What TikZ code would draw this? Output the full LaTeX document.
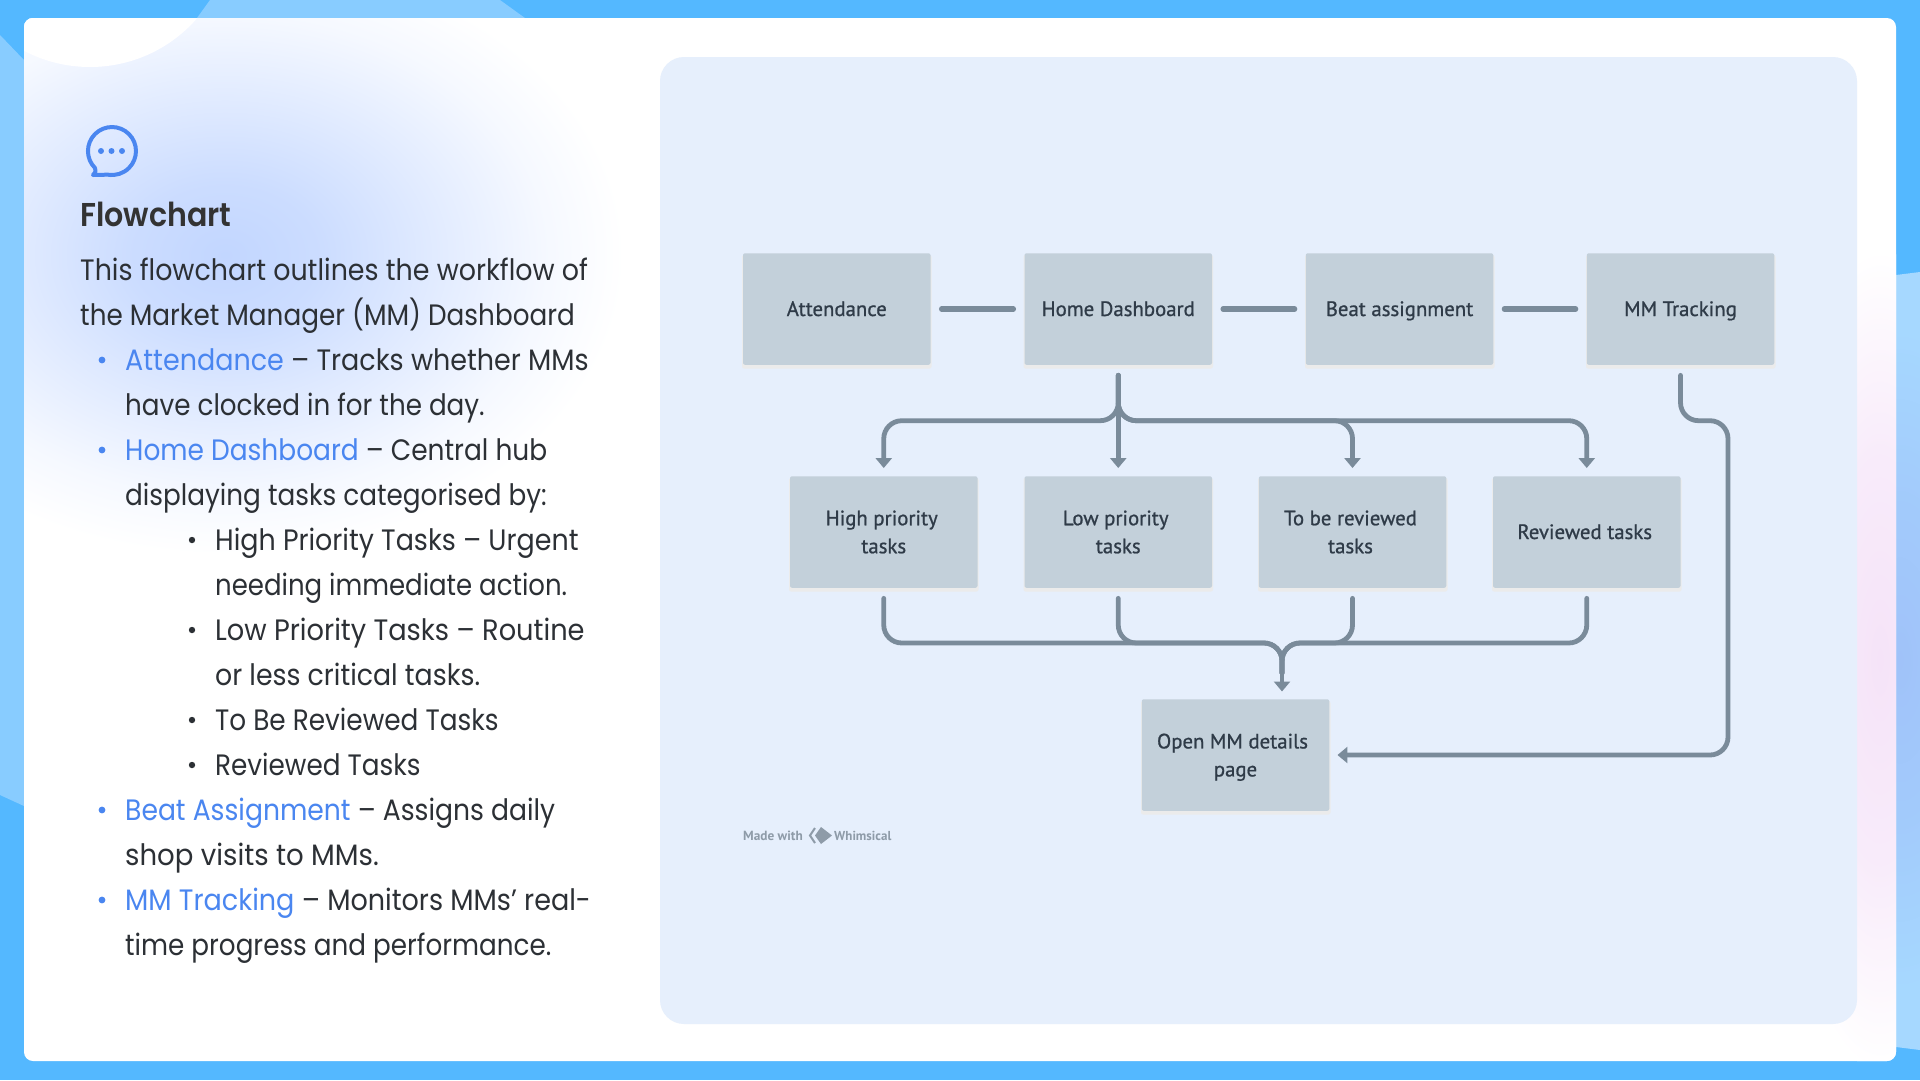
\documentclass[tikz,border=0pt]{standalone}
\usepackage{fontspec}
\usepackage{graphicx}
\usetikzlibrary{arrows.meta,calc}
\setmainfont{Poppins}[FakeStretch=0.912,BoldFont={Poppins SemiBold}]
\newfontfamily\boxfont{PT Sans}[FakeBold=0.9]
\newfontfamily\wmfont{PT Sans}
\newcommand{\fitw}[2]{\scalebox{#1}[1]{#2}}
\definecolor{basesky}{HTML}{54B8FF}
\definecolor{lightsky}{HTML}{88CCFF}
\definecolor{rightsky}{HTML}{A6D8FF}
\definecolor{periw}{HTML}{A0C2F9}
\definecolor{glowblue}{HTML}{C2D6FF}
\definecolor{glowpink}{HTML}{F5E3F8}
\definecolor{panelbg}{HTML}{E6EFFC}
\definecolor{boxbg}{HTML}{C3D0DA}
\definecolor{linecol}{HTML}{7A8B9A}
\definecolor{boxtext}{HTML}{2F3B48}
\definecolor{bodytext}{HTML}{2C3035}
\definecolor{accent}{HTML}{4A86F0}
\definecolor{wm}{HTML}{8E9BA8}
\pgfdeclareradialshading{glowA}{\pgfpoint{0bp}{0bp}}{color(0bp)=(glowblue); color(6bp)=(glowblue!84!white); color(12.5bp)=(glowblue!52!white); color(20bp)=(glowblue!16!white); color(25bp)=(white); color(50bp)=(white)}
\pgfdeclareradialshading{glowB}{\pgfpoint{0bp}{0bp}}{color(0bp)=(glowpink); color(12.5bp)=(glowpink!70!white); color(25bp)=(white); color(50bp)=(white)}
\pgfdeclareradialshading{glowC}{\pgfpoint{0bp}{0bp}}{color(0bp)=(periw); color(12.5bp)=(periw!60!rightsky); color(25bp)=(rightsky); color(50bp)=(rightsky)}
\tikzset{
  flowbox/.style={rectangle,fill=boxbg,rounded corners=2pt,minimum width=187.5pt,minimum height=111.5pt,inner sep=0pt,align=center,text=boxtext,font=\boxfont\fontsize{20.8}{28}\selectfont},
  oneline/.style={text height=18pt,text depth=4pt},
  boxshadow/.style={fill=black!8,rounded corners=2pt},
  conn/.style={draw=linecol,line width=4.8pt,rounded corners=18pt,line cap=round},
  plain/.style={conn,line width=5.5pt,shorten <=11pt,shorten >=11pt},
  branch/.style={conn,shorten <=10.4pt,shorten >=8pt,-{Triangle[length=10pt,width=16pt]}},
  merge/.style={conn,shorten <=10.4pt},
  body/.style={anchor=base west,inner sep=0pt,text=bodytext,font=\fontsize{29.5}{34}\selectfont},
}
\begin{document}
\begin{tikzpicture}[x=1pt,y=-1pt]
\useasboundingbox (0,0) rectangle (1920,1080);
% outer background
\fill[basesky] (0,0) rectangle (1920,1080);
\fill[lightsky] (197,18) -- (210,0) -- (500,0) -- (525,18) -- cycle;
\fill[lightsky] (0,35) -- (24,60) -- (24,806) -- (0,795) -- cycle;
\fill[rightsky] (1896,275) -- (1920,272) -- (1920,1050) -- (1896,1047) -- cycle;
\begin{scope}
  \clip (1896,275) -- (1920,272) -- (1920,1050) -- (1896,1047) -- cycle;
  \shade[shading=glowC] (1900,660) ellipse [x radius=120,y radius=330];
\end{scope}
% card
\fill[white] (24,18) [rounded corners=9pt] rectangle (1896,1061);
\begin{scope}
  \clip[rounded corners=9pt] (24,18) rectangle (1896,1061);
  \shade[shading=glowA] (225,255) ellipse [x radius=400,y radius=300];
  \shade[shading=glowB] (1880,660) ellipse [x radius=110,y radius=410];
  \fill[white] (90,-75) circle [radius=142];
\end{scope}
% panel
\fill[panelbg,rounded corners=24pt] (660,57) rectangle (1857,1024);
% icon
\draw[accent,line width=4pt,line cap=round,line join=round]
  (95,168) arc [start angle=135,end angle=460,radius=24] -- (93,175) .. controls (96,172) and (96,170) .. (95,168);
\fill[accent] (101,151) circle [radius=3];
\fill[accent] (111.5,151) circle [radius=3];
\fill[accent] (122,151) circle [radius=3];
% heading and text
\node[anchor=base west,inner sep=0pt,text=black!80,font=\fontsize{33}{38}\selectfont\bfseries] (title) at (80,226) {Flowchart};
\node[body] (l0) at (80,280.5) {This flowchart outlines the workflow of};
\node[body] (l1) at (80,325.5) {\fitw{.976}{the Market Manager (MM) Dashboard}};
\node[body] (l2) at (125,370.5) {\fitw{1.003}{\textcolor{accent}{Attendance} -- Tracks whether MMs}};
\node[body] (l3) at (125,415.5) {\fitw{.974}{have clocked in for the day.}};
\node[body] (l4) at (125,460.5) {\fitw{.983}{\textcolor{accent}{Home Dashboard} -- Central hub}};
\node[body] (l5) at (125,505.5) {\fitw{.977}{displaying tasks categorised by:}};
\node[body] (l6) at (215,550.5) {High Priority Tasks -- Urgent};
\node[body] (l7) at (215,595.5) {\fitw{.966}{needing immediate action.}};
\node[body] (l8) at (215,640.5) {\fitw{1.013}{Low Priority Tasks -- Routine}};
\node[body] (l9) at (215,685.5) {\fitw{.995}{or less critical tasks.}};
\node[body] (l10) at (215,730.5) {\fitw{.979}{To Be Reviewed Tasks}};
\node[body] (l11) at (215,775.5) {\fitw{.977}{Reviewed Tasks}};
\node[body] (l12) at (125,820.5) {\fitw{.989}{\textcolor{accent}{Beat Assignment} -- Assigns daily}};
\node[body] (l13) at (125,865.5) {\fitw{1.025}{shop visits to MMs.}};
\node[body] (l14) at (125,910.5) {\fitw{1.005}{\textcolor{accent}{MM Tracking} -- Monitors MMs’ real-}};
\node[body] (l15) at (125,955.5) {\fitw{.975}{time progress and performance.}};
% bullets
\foreach \yy in {360,450,810,900} \fill[accent] (102,\yy) circle [radius=3.4];
\foreach \yy in {540,630,720,765} \fill[bodytext] (192,\yy) circle [radius=3.2];
% box shadows
\foreach \xx/\yy in {743/253,1024.5/253,1306/253,1587/253,790/476,1024.5/476,1259/476,1493/476,1142/699}
  \fill[boxshadow] (\xx-1,\yy+2) rectangle ++(189.5,113.5);
% boxes
\node[flowbox,oneline] (att) at (836.75,309) {Attendance};
\node[flowbox,oneline] (home) at (1118.25,309) {Home Dashboard};
\node[flowbox,oneline] (beat) at (1399.5,309) {Beat assignment};
\node[flowbox,oneline] (mm) at (1680.5,309) {MM Tracking};
\node[flowbox] (high) at (883.75,532) {High priority\hspace*{4pt}\\tasks};
\node[flowbox] (low) at (1118.25,532) {Low priority\hspace*{5pt}\\tasks};
\node[flowbox] (tbr) at (1352.5,532) {To be reviewed\hspace*{4pt}\\tasks\hspace*{4pt}};
\node[flowbox,oneline] (rev) at (1586.75,532) {Reviewed tasks\hspace*{4pt}};
\node[flowbox] (open) at (1235.5,755) {Open MM details\hspace*{6pt}\\\smash{page}};
% connector helpers
\coordinate (busA) at (1118,420.7);
\coordinate (busB) at (1282,643);
\coordinate (entry) at (1282,699);
\coordinate (rightrun) at (1728,755);
% connectors
\draw[plain] (att.east) -- (home.west);
\draw[plain] (home.east) -- (beat.west);
\draw[plain] (beat.east) -- (mm.west);
\draw[branch] (home.south) -- (home.south |- busA) -- (high.north |- busA) -- (high.north);
\draw[branch] (home.south) -- (low.north);
\draw[branch] (home.south) -- (home.south |- busA) -- (tbr.north |- busA) -- (tbr.north);
\draw[branch] (home.south) -- (home.south |- busA) -- (rev.north |- busA) -- (rev.north);
\draw[branch,shorten <=16pt,shorten >=7.5pt] (entry |- busB) -- (entry);
\draw[merge] (high.south) -- (high.south |- busB) -- (busB) -- ($(busB)+(0,30)$);
\draw[merge] (low.south) -- (low.south |- busB) -- (busB) -- ($(busB)+(0,30)$);
\draw[merge] (tbr.south) -- (tbr.south |- busB) -- (busB) -- ($(busB)+(0,30)$);
\draw[merge] (rev.south) -- (rev.south |- busB) -- (busB) -- ($(busB)+(0,30)$);
\draw[branch] (mm.south) -- (mm.south |- busA) -- (rightrun |- busA) -- (rightrun) -- (open.east);
% watermark
\node[anchor=base west,inner sep=0pt,text=wm,font=\wmfont\bfseries\fontsize{13.3}{15}\selectfont] (made) at (743,840) {Made with};
\node[anchor=base west,inner sep=0pt,text=wm,font=\wmfont\bfseries\fontsize{13}{15}\selectfont] (whim) at (834,840) {Whimsical};
\draw[wm,line width=2pt] (815,828) -- (810,835.5) -- (815,843);
\fill[wm] (821,827) -- (832,835.5) -- (821,844) -- (815,835.5) -- cycle;
\end{tikzpicture}
\end{document}
